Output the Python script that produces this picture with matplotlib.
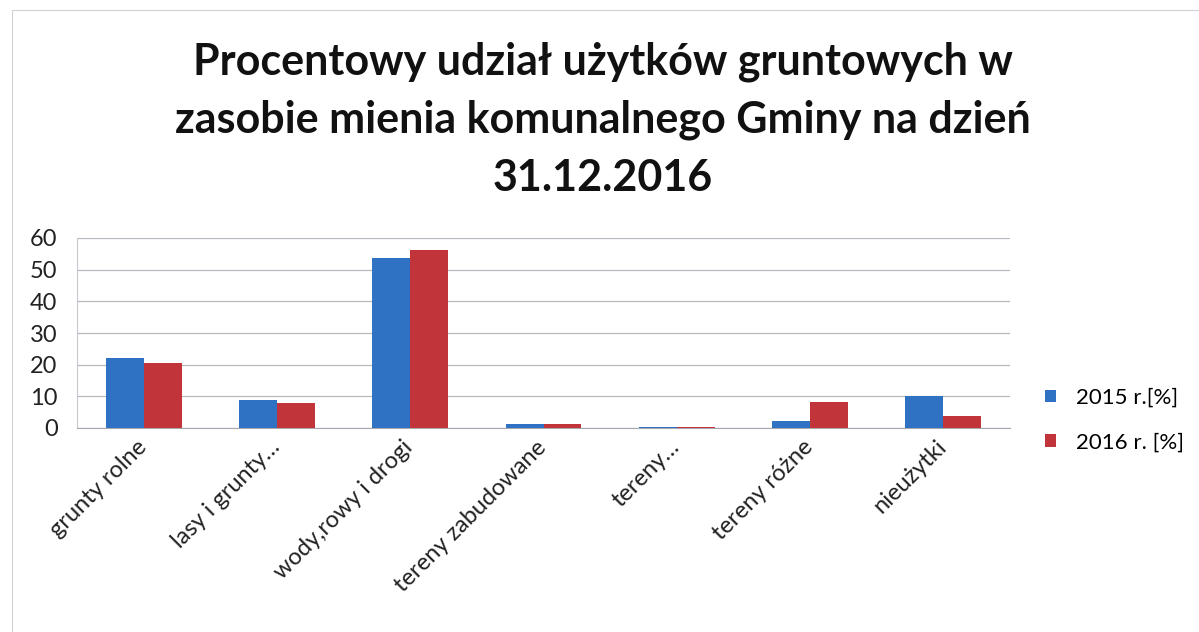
import matplotlib
matplotlib.use("Agg")
import matplotlib.pyplot as plt
import matplotlib.transforms as mtransforms
import numpy as np
from matplotlib.patches import Rectangle

categories = ["grunty rolne", "lasy i grunty…", "wody,rowy i drogi", "tereny zabudowane",
              "tereny…", "tereny różne", "nieużytki"]
v2015 = [22.1, 8.8, 53.7, 1.3, 0.35, 2.1, 10.0]
v2016 = [20.5, 7.9, 56.2, 1.2, 0.35, 8.1, 3.8]
series_names = ["2015 r.[%]", "2016 r. [%]"]
yticks = [0, 10, 20, 30, 40, 50, 60]
title = "Procentowy udział użytków gruntowych w\nzasobie mienia komunalnego Gminy na dzień\n31.12.2016"

plt.rcParams['font.family'] = ['Lato', 'DejaVu Sans']

fig = plt.figure(figsize=(11.99, 6.32), dpi=100)
ax = fig.add_axes([77/1199, 1-428/632, (1010-77)/1199, (428-238)/632])

x = np.arange(len(categories))
w = 0.285
c1, c2 = "#2f72c4", "#c0343a"
ax.bar(x - w/2, v2015, w, color=c1, label=series_names[0], zorder=3)
ax.bar(x + w/2, v2016, w, color=c2, label=series_names[1], zorder=3)

ax.set_xlim(-0.5, len(categories) - 0.5)
ax.set_ylim(0, 60)
ax.set_yticks(yticks)
ax.set_yticklabels([str(t) for t in yticks], fontsize=17, color="#222222")
ax.yaxis.grid(True, color="#b8b8c0", linewidth=0.9, zorder=0)
ax.set_xticks(x)
ax.set_xticklabels(categories, rotation=45, ha="right", rotation_mode="anchor",
                   fontsize=17, color="#222222")
ax.tick_params(axis="y", length=0, pad=14)
ax.tick_params(axis="x", length=0, pad=6)
off = mtransforms.ScaledTranslation(-8/100, 0, fig.dpi_scale_trans)
for lbl in ax.get_xticklabels():
    lbl.set_transform(lbl.get_transform() + off)
for s in ["top", "right"]:
    ax.spines[s].set_visible(False)
ax.spines["left"].set_color("#c8c8d0")
ax.spines["bottom"].set_color("#a8a8b0")

fig.text(0.503, 0.935, title, ha="center", va="top", fontsize=31, fontweight="bold",
         linespacing=1.55, color="#111111")

fig.legend(loc="center left", bbox_to_anchor=(1036/1199, 1-420/632), frameon=False,
           fontsize=16, handlelength=0.5, handleheight=0.5, labelspacing=1.1,
           handletextpad=0.9, borderaxespad=0)

fig.patches.append(Rectangle((12/1199, -0.1), 1.2, 1-10/632+0.1, transform=fig.transFigure,
                             fill=False, edgecolor="#d0d0d8", linewidth=0.8))

fig.savefig("out.png", dpi=100)
